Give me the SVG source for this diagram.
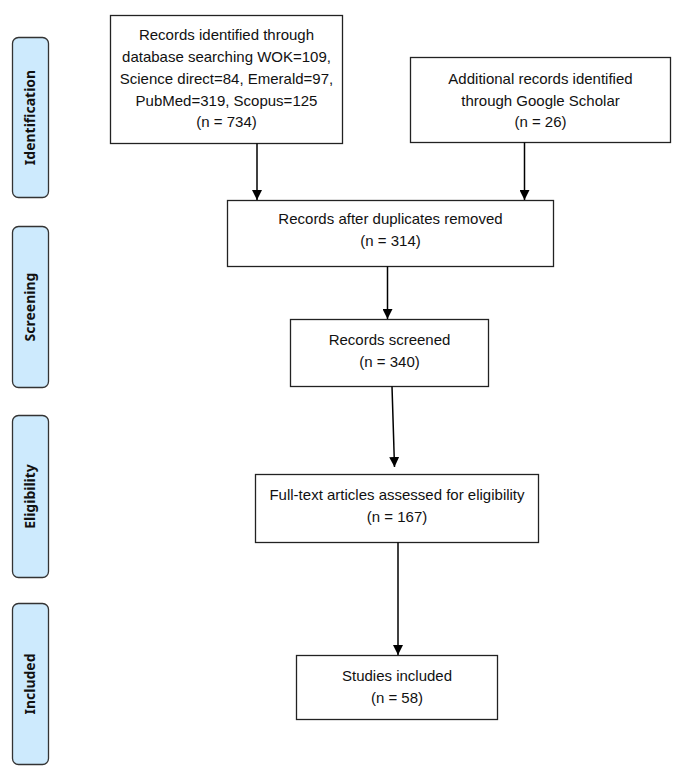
<svg xmlns="http://www.w3.org/2000/svg" width="685" height="773" viewBox="0 0 685 773">
<defs>
<style>
.box{fill:#fff;stroke:#222;stroke-width:1.3}
.side{fill:#cdeafd;stroke:#333;stroke-width:1.3}
.t{font-family:"Liberation Sans",Arial,sans-serif;font-size:15px;fill:#111;text-anchor:middle}
.s{font-family:"Noto Sans","DejaVu Sans",sans-serif;font-size:14px;font-weight:bold;fill:#111;text-anchor:middle}
.c{stroke:#000;stroke-width:1.5;fill:none;marker-end:url(#ah)}
</style>
<marker id="ah" markerUnits="userSpaceOnUse" markerWidth="10" markerHeight="10" refX="10" refY="5" orient="auto">
<path d="M0,0 L10,5 L0,10 z" fill="#000"/>
</marker>
</defs>
<rect width="685" height="773" fill="#fff"/>
<g id="phase-identification"><rect class="side" x="12.5" y="37.5" width="36" height="160" rx="6"/><text class="s" transform="translate(35,117.5) rotate(-90)">Identification</text></g>
<g id="phase-screening"><rect class="side" x="12.5" y="226.5" width="36" height="161" rx="6"/><text class="s" transform="translate(35,307) rotate(-90)">Screening</text></g>
<g id="phase-eligibility"><rect class="side" x="12.5" y="415.5" width="36" height="162" rx="6"/><text class="s" transform="translate(35,496.5) rotate(-90)">Eligibility</text></g>
<g id="phase-included"><rect class="side" x="12.5" y="603.5" width="36" height="161" rx="6"/><text class="s" transform="translate(35,684) rotate(-90)">Included</text></g>

<g id="n1"><rect class="box" x="110.5" y="15.5" width="232" height="128"/>
<text class="t" x="226.5" y="40">Records identified through</text>
<text class="t" x="226.5" y="62">database searching WOK=109,</text>
<text class="t" x="226.5" y="84">Science direct=84, Emerald=97,</text>
<text class="t" x="226.5" y="106">PubMed=319, Scopus=125</text>
<text class="t" x="226.5" y="127">(n = 734)</text></g>
<g id="n2"><rect class="box" x="410.5" y="57.5" width="260" height="85"/>
<text class="t" x="540.5" y="84">Additional records identified</text>
<text class="t" x="540.5" y="106">through Google Scholar</text>
<text class="t" x="540.5" y="127">(n = 26)</text></g>
<g id="n3"><rect class="box" x="227.5" y="200.5" width="326" height="66"/>
<text class="t" x="390.5" y="224">Records after duplicates removed</text>
<text class="t" x="390.5" y="246">(n = 314)</text></g>
<g id="n4"><rect class="box" x="290.5" y="319.5" width="198" height="67"/>
<text class="t" x="389.5" y="345">Records screened</text>
<text class="t" x="389.5" y="367">(n = 340)</text></g>
<g id="n5"><rect class="box" x="255.5" y="474.5" width="283" height="68"/>
<text class="t" x="397" y="500">Full-text articles assessed for eligibility</text>
<text class="t" x="397" y="522">(n = 167)</text></g>
<g id="n6"><rect class="box" x="296.5" y="655.5" width="201" height="64"/>
<text class="t" x="397" y="681">Studies included</text>
<text class="t" x="397" y="703">(n = 58)</text></g>

<g id="connectors">
<line class="c" x1="257" y1="143.5" x2="257" y2="200"/>
<line class="c" x1="524.5" y1="142.5" x2="524.5" y2="200"/>
<line class="c" x1="387.5" y1="266.5" x2="387.5" y2="319"/>
<line class="c" x1="392" y1="386.5" x2="394.5" y2="467"/>
<line class="c" x1="398" y1="542.5" x2="398" y2="655"/>
</g>
</svg>
